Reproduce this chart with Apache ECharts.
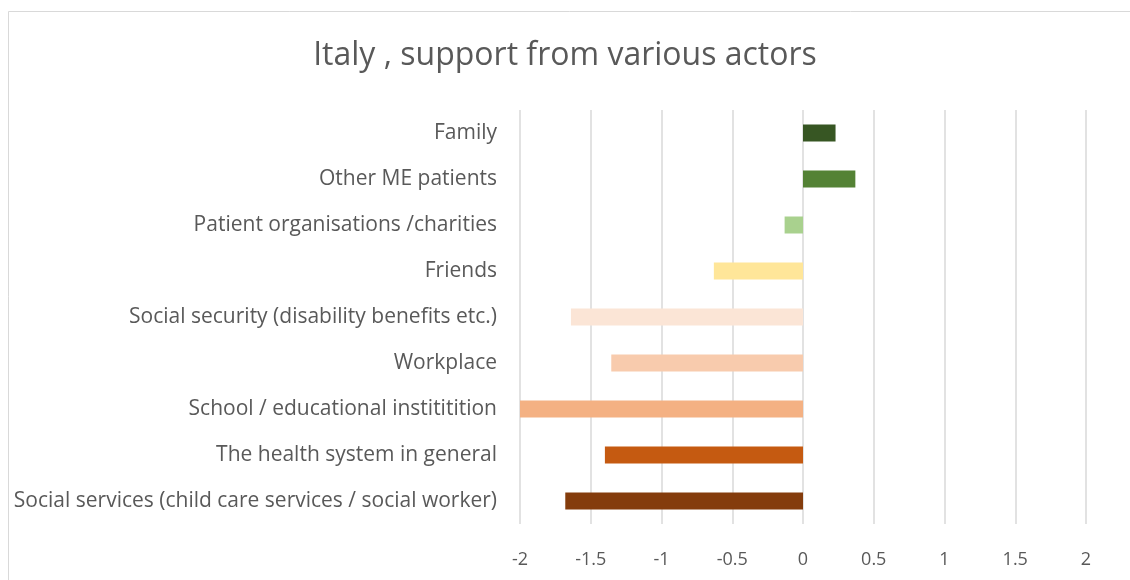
<!DOCTYPE html>
<html>
<head>
<meta charset="utf-8">
<script src="https://cdn.jsdelivr.net/npm/echarts@6/dist/echarts.min.js"></script>
<style>html,body{margin:0;padding:0;background:#fff;}#c{width:1130px;height:580px;}</style>
</head>
<body>
<div id="c"></div>
<script>
const categories = [
  "Social services (child care services / social worker)",
  "The health system in general",
  "School / educational instititition",
  "Workplace",
  "Social security (disability benefits etc.)",
  "Friends",
  "Patient organisations /charities",
  "Other ME patients",
  "Family"
];
const values = [-1.68, -1.40, -2.00, -1.355, -1.64, -0.63, -0.13, 0.37, 0.23];
const barColors = ["#843C0C", "#C55A11", "#F4B183", "#F8CBAD", "#FBE5D6", "#FFE699", "#A9D18E", "#548235", "#375623"];
const xTicks = [-2, -1.5, -1, -0.5, 0, 0.5, 1, 1.5, 2];
const titleText = "Italy , support from various actors";

const font = "'Open Sans', 'Noto Sans', sans-serif";
const chart = echarts.init(document.getElementById('c'));
chart.setOption({
  animation: false,
  backgroundColor: '#fff',
  title: {
    text: titleText, left: 'center', top: 35,
    textStyle: { fontFamily: font, fontSize: 32, fontWeight: 'normal', color: '#595959' }
  },
  graphic: [{
    type: 'rect', silent: true, z: -1,
    shape: { x: 8.5, y: 11.5, width: 1140, height: 600 },
    style: { fill: 'none', stroke: '#d9d9d9', lineWidth: 1 }
  }],
  grid: { left: 520, right: 44, top: 110, bottom: 56, containLabel: false },
  xAxis: {
    type: 'value', min: xTicks[0], max: xTicks[xTicks.length - 1], interval: 0.5,
    axisLine: { show: false }, axisTick: { show: false },
    splitLine: { lineStyle: { color: '#d9d9d9', width: 1.5 } },
    axisLabel: { fontFamily: font, fontSize: 18, color: '#595959', margin: 27 }
  },
  yAxis: {
    type: 'category', data: categories,
    axisLine: { show: false }, axisTick: { show: false },
    axisLabel: { fontFamily: font, fontSize: 21, color: '#595959', margin: 23 }
  },
  series: [{
    type: 'bar', barWidth: 17,
    data: values.map((v, i) => ({ value: v, itemStyle: { color: barColors[i] } }))
  }]
});
</script>
</body>
</html>
